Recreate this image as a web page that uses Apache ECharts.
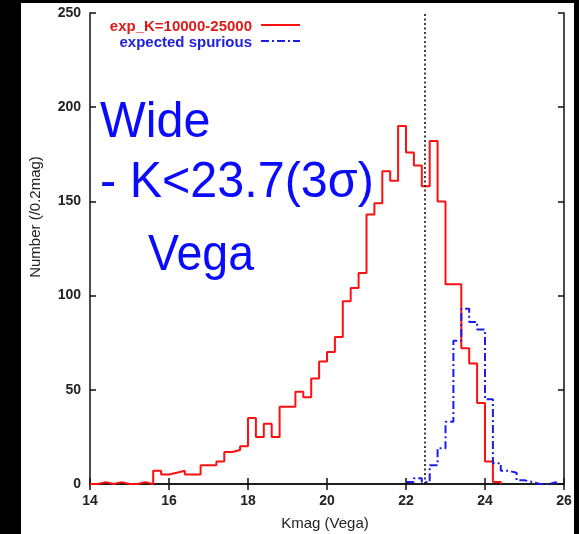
<!DOCTYPE html>
<html>
<head>
<meta charset="utf-8">
<script src="https://cdn.jsdelivr.net/npm/echarts@6/dist/echarts.min.js"></script>
<style>
  html, body { margin: 0; padding: 0; background: #000; }
  #chart { width: 579px; height: 534px; }
</style>
</head>
<body>
<div id="chart"></div>
<script>
// K-band magnitude histogram, 0.2 mag bins
const binWidth = 0.2;

// Observed counts per bin, first bin starts at Kmag 14.0
const redStart = 14.0;
const redCounts = [
  0, 1, 0, 1, 0, 0, 1, 0, 7, 5,
  6, 7, 5, 5, 10, 10, 12, 17, 18, 20,
  35, 25, 32, 25, 41, 41, 49, 46, 56, 65,
  70, 78, 97, 104, 112, 143, 149, 166, 161, 190,
  176, 169, 158, 182, 150, 106, 106, 72, 64, 43,
  12, 1
];

// Expected spurious detections per bin, first bin starts at Kmag 22.0
const blueStart = 22.0;
const blueCounts = [
  1, 3, 1, 10, 19, 33, 76, 93, 86, 82,
  45, 11, 7, 6, 2, 1, 0, 0, 1
];

// 3-sigma limiting magnitude marker
const limitMag = 22.47;

// Axis ranges and tick steps
const xRange = [14, 26];
const xStep = 2;
const yRange = [0, 250];
const yStep = 50;

const seriesNames = ['exp_K=10000-25000', 'expected spurious'];
const noteLines = ['Wide', '- K<23.7(3σ)', 'Vega'];

// Turn bin counts into step points at the bin edges
function stepPoints(start, counts) {
  const pts = counts.map((c, i) => [+(start + i * binWidth).toFixed(2), c]);
  pts.push([+(start + counts.length * binWidth).toFixed(2), 0]);
  return pts;
}

const FONT = '"Liberation Sans", Arial, Helvetica, sans-serif';
const RED = '#ff1010';
const BLUE = '#1c1ce6';
const NOTE_BLUE = '#0a0aff';

const axisLine = { show: true, lineStyle: { color: '#111', width: 1.5 } };
const axisTick = { show: true, inside: true, length: 6, lineStyle: { color: '#111', width: 1.5 } };
const tickFont = { fontFamily: FONT, fontSize: 14, fontWeight: 'bold', color: '#222' };

const chart = echarts.init(document.getElementById('chart'), null, { renderer: 'canvas' });

chart.setOption({
  animation: false,
  backgroundColor: '#000',
  grid: { left: 90, right: 15, top: 13, bottom: 50, containLabel: false },
  xAxis: [
    {
      type: 'value', position: 'bottom', min: xRange[0], max: xRange[1], interval: xStep,
      axisLine, axisTick, splitLine: { show: false },
      axisLabel: Object.assign({ margin: 10 }, tickFont)
    },
    {
      type: 'value', position: 'top', min: xRange[0], max: xRange[1], interval: xStep,
      axisLine, axisTick, splitLine: { show: false }, axisLabel: { show: false }
    }
  ],
  yAxis: [
    {
      type: 'value', position: 'left', min: yRange[0], max: yRange[1], interval: yStep,
      axisLine, axisTick, splitLine: { show: false },
      axisLabel: Object.assign({ margin: 9 }, tickFont)
    },
    {
      type: 'value', position: 'right', min: yRange[0], max: yRange[1], interval: yStep,
      axisLine, axisTick, splitLine: { show: false }, axisLabel: { show: false }
    }
  ],
  series: [
    {
      name: seriesNames[0], type: 'line', step: 'end',
      xAxisIndex: 0, yAxisIndex: 0, showSymbol: false, z: 3,
      lineStyle: { color: RED, width: 2 },
      data: stepPoints(redStart, redCounts),
      markLine: {
        silent: true, symbol: 'none', animation: false,
        label: { show: false },
        lineStyle: { color: '#111', type: [2, 2.5], width: 1.6 },
        data: [{ xAxis: limitMag }]
      }
    },
    {
      name: seriesNames[1], type: 'line', step: 'end',
      xAxisIndex: 0, yAxisIndex: 0, showSymbol: false, z: 4,
      lineStyle: { color: BLUE, width: 2, type: [8, 3, 2, 3] },
      data: stepPoints(blueStart, blueCounts)
    }
  ],
  graphic: [
    // white panel behind the plot
    { type: 'rect', z: -10, shape: { x: 21, y: 3, width: 553, height: 531 }, style: { fill: '#fff' } },
    // legend
    { type: 'text', z: 10, style: { text: seriesNames[0], x: 252, y: 27, textAlign: 'right', textVerticalAlign: 'middle', fill: '#dc1a1a', font: 'bold 15px ' + FONT } },
    { type: 'line', z: 10, shape: { x1: 261, y1: 25, x2: 300, y2: 25 }, style: { stroke: RED, lineWidth: 2 } },
    { type: 'text', z: 10, style: { text: seriesNames[1], x: 252, y: 43, textAlign: 'right', textVerticalAlign: 'middle', fill: '#2020d8', font: 'bold 15px ' + FONT } },
    { type: 'line', z: 10, shape: { x1: 261, y1: 41, x2: 300, y2: 41 }, style: { stroke: BLUE, lineWidth: 2, lineDash: [8, 3, 2, 3] } },
    // axis titles
    { type: 'text', z: 10, style: { text: 'Kmag (Vega)', x: 325, y: 524, textAlign: 'center', textVerticalAlign: 'middle', fill: '#222', font: '15px ' + FONT } },
    { type: 'text', z: 10, rotation: Math.PI / 2, x: 36, y: 217, style: { text: 'Number (/0.2mag)', x: 0, y: 0, textAlign: 'center', textVerticalAlign: 'middle', fill: '#222', font: '15px ' + FONT } },
    // notes
    { type: 'text', z: 10, x: 100, y: 148, scaleX: 0.97, style: { text: noteLines[0], x: 0, y: 0, textVerticalAlign: 'bottom', fill: NOTE_BLUE, font: '50px ' + FONT } },
    { type: 'text', z: 10, x: 100, y: 208, scaleX: 0.97, style: { text: noteLines[1], x: 0, y: 0, textVerticalAlign: 'bottom', fill: NOTE_BLUE, font: '50px ' + FONT } },
    { type: 'text', z: 10, x: 148, y: 281, scaleX: 0.93, style: { text: noteLines[2], x: 0, y: 0, textVerticalAlign: 'bottom', fill: NOTE_BLUE, font: '50px ' + FONT } }
  ]
});
</script>
</body>
</html>
